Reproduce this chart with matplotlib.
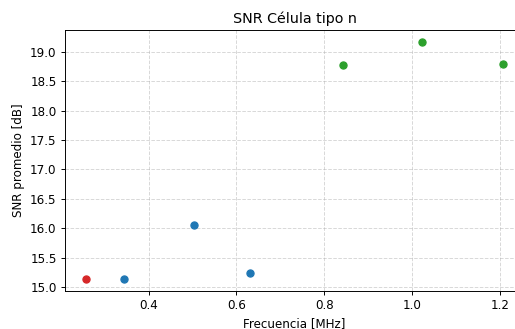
import matplotlib
matplotlib.use("Agg")
from matplotlib import pyplot as plt

# frecuencias [MHz] y SNR promedio [dB] por grupo
freq_bajo = [0.257]
snr_bajo = [15.14]

freq_medio = [0.344, 0.504, 0.630]
snr_medio = [15.15, 16.05, 15.25]

freq_alto = [0.842, 1.022, 1.2075]
snr_alto = [18.77, 19.165, 18.79]

dpi = 85.8
fig = plt.figure(figsize=(515 / dpi, 329 / dpi), dpi=dpi)
ax = fig.add_axes([65 / 515, 38 / 329, 459 / 515, 261 / 329])

ax.scatter(freq_bajo, snr_bajo, color="tab:red", zorder=3)
ax.scatter(freq_medio, snr_medio, color="tab:blue", zorder=3)
ax.scatter(freq_alto, snr_alto, color="tab:green", zorder=3)

ax.set_title("SNR Célula tipo n")
ax.set_xlabel("Frecuencia [MHz]")
ax.set_ylabel("SNR promedio [dB]")
ax.set_xticks([0.4, 0.6, 0.8, 1.0, 1.2])
ax.set_yticks([15.0, 15.5, 16.0, 16.5, 17.0, 17.5, 18.0, 18.5, 19.0])
ax.grid(True, linestyle="--", alpha=0.5)

fig.savefig("out.png", dpi=dpi)
